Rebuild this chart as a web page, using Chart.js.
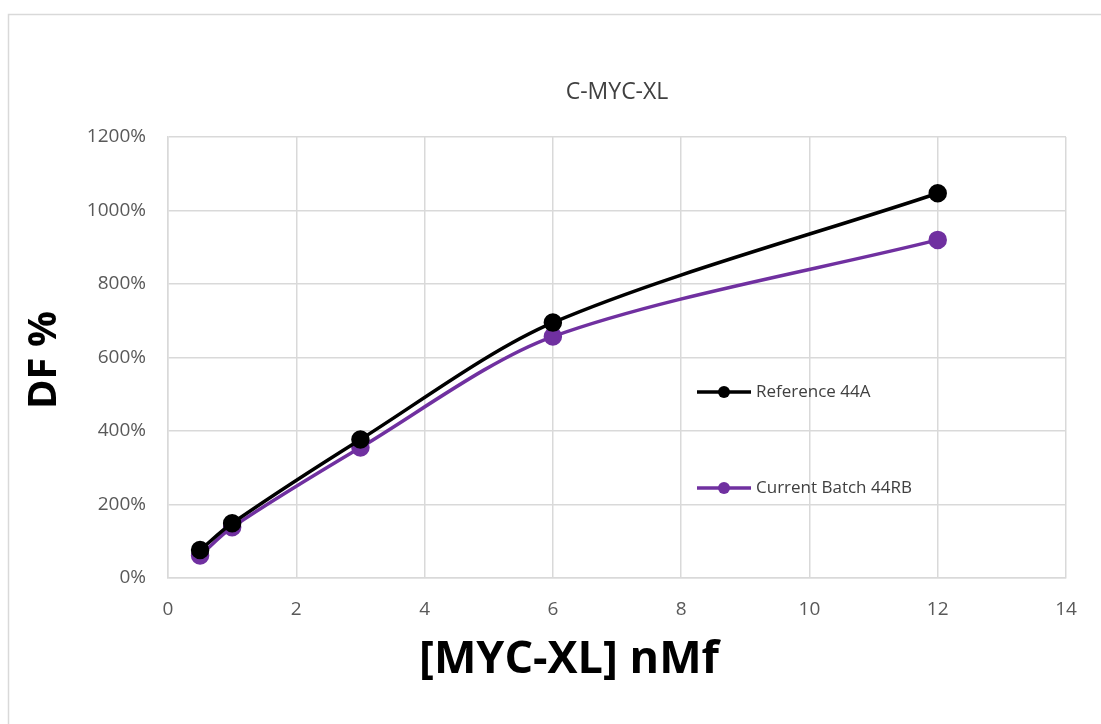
<!DOCTYPE html>
<html>
<head>
<meta charset="utf-8">
<script src="https://cdn.jsdelivr.net/npm/chart.js@4"></script>
<style>
  body { margin: 0; background: #fff; }
  #wrap { width: 1101px; height: 724px; position: relative; }
</style>
</head>
<body>
<div id="wrap"><canvas id="dfChart"></canvas></div>
<script>
// concentrations (nMf) and DF % values
const concentrations = [0.5, 1, 3, 6, 12];
const reference44A = [76, 149, 377, 695, 1047];
const currentBatch44RB = [61, 138, 355, 657, 920];
const xTicks = [0, 2, 4, 6, 8, 10, 12, 14];
const yTicks = [0, 200, 400, 600, 800, 1000, 1200];

const seriesNames = ['Reference 44A', 'Current Batch 44RB'];
const seriesColors = ['#000000', '#7030a0'];

const toPoints = (vals) => vals.map((v, i) => ({ x: concentrations[i], y: v }));

// frame, titles and legend drawn on top of the chart
const extras = {
  id: 'extras',
  beforeDraw(chart) {
    const c = chart.ctx;
    c.save();
    c.fillStyle = '#fff';
    c.fillRect(0, 0, chart.width, chart.height);
    c.strokeStyle = '#d9d9d9';
    c.lineWidth = 1.5;
    c.strokeRect(8.5, 14.5, 1200, 800);
    c.restore();
  },
  afterDraw(chart) {
    const c = chart.ctx;
    c.save();
    c.fillStyle = '#404040';
    c.textAlign = 'center';
    c.textBaseline = 'middle';
    c.font = '23px "Open Sans"';
    c.fillText('C-MYC-XL', 617, 92);

    c.fillStyle = '#000';
    c.font = 'bold 45px "Open Sans"';
    c.fillText('[MYC-XL] nMf', 569, 660);

    c.save();
    c.translate(45, 360);
    c.rotate(-Math.PI / 2);
    c.font = 'bold 40px "Open Sans"';
    c.fillText('DF %', 0, 0);
    c.restore();

    // legend
    const rows = [392, 488];
    rows.forEach((y, i) => {
      c.strokeStyle = seriesColors[i];
      c.lineWidth = 3.5;
      c.beginPath();
      c.moveTo(697, y);
      c.lineTo(751, y);
      c.stroke();
      c.fillStyle = seriesColors[i];
      c.beginPath();
      c.arc(724, y, 6, 0, Math.PI * 2);
      c.fill();
      c.fillStyle = '#404040';
      c.textAlign = 'left';
      c.font = '17px "Open Sans"';
      c.fillText(seriesNames[i], 756, y);
    });
    c.restore();
  }
};

const ctx = document.getElementById('dfChart');
new Chart(ctx, {
  type: 'line',
  data: {
    datasets: [
      {
        label: seriesNames[0],
        data: toPoints(reference44A),
        borderColor: seriesColors[0],
        backgroundColor: seriesColors[0],
        borderWidth: 3.5,
        pointRadius: 7.5,
        pointHoverRadius: 7.5,
        tension: 0.3
      },
      {
        label: seriesNames[1],
        data: toPoints(currentBatch44RB),
        borderColor: seriesColors[1],
        backgroundColor: seriesColors[1],
        borderWidth: 3.5,
        pointRadius: 7.5,
        pointHoverRadius: 7.5,
        tension: 0.3
      }
    ]
  },
  options: {
    responsive: true,
    maintainAspectRatio: false,
    animation: false,
    layout: { padding: { top: 137, right: 35, bottom: 0, left: 0 } },
    plugins: {
      legend: { display: false },
      title: { display: false },
      tooltip: { enabled: false }
    },
    scales: {
      x: {
        type: 'linear',
        min: 0,
        max: 14,
        afterFit: (s) => { s.height = 146; },
        afterBuildTicks: (s) => { s.ticks = xTicks.map(v => ({ value: v })); },
        grid: { color: '#d9d9d9', lineWidth: 1.5, drawTicks: false },
        border: { color: '#d9d9d9', width: 1.5 },
        ticks: { color: '#595959', font: { family: 'Open Sans', size: 19 }, padding: 20 }
      },
      y: {
        min: 0,
        max: 1200,
        afterFit: (s) => { s.width = 168; },
        afterBuildTicks: (s) => { s.ticks = yTicks.map(v => ({ value: v })); },
        grid: { color: '#d9d9d9', lineWidth: 1.5, drawTicks: false },
        border: { color: '#d9d9d9', width: 1.5 },
        ticks: {
          color: '#595959',
          font: { family: 'Open Sans', size: 19 },
          padding: 22,
          callback: (v) => v + '%'
        }
      }
    }
  },
  plugins: [extras]
});
</script>
</body>
</html>
